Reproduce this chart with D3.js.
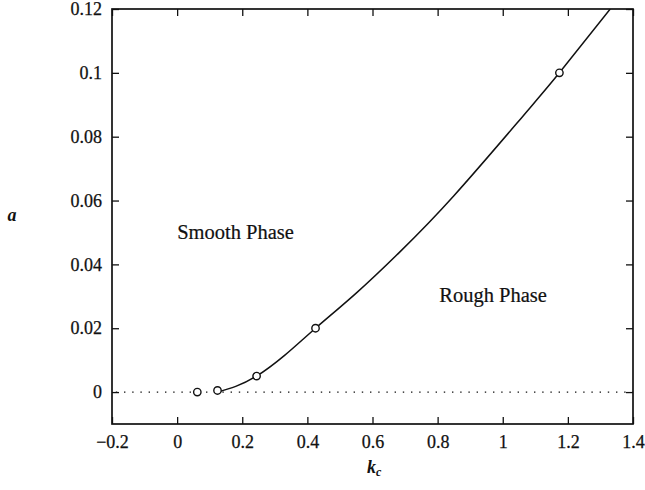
<!DOCTYPE html>
<html>
<head>
<meta charset="utf-8">
<script src="https://cdn.jsdelivr.net/npm/d3@7"></script>
<style>
  html, body { margin: 0; padding: 0; background: #fff; }
  svg { display: block; }
  text { font-family: "Liberation Serif", "Times New Roman", serif; fill: #111; }
</style>
</head>
<body>
<svg id="chart" width="645" height="490"></svg>
<script>
// ---- data ----
const kTicks = [-0.2, 0, 0.2, 0.4, 0.6, 0.8, 1, 1.2, 1.4];
const kTickLabels = ["\u22120.2", "0", "0.2", "0.4", "0.6", "0.8", "1", "1.2", "1.4"];
const aTicks = [0, 0.02, 0.04, 0.06, 0.08, 0.1, 0.12];
const aTickLabels = ["0", "0.02", "0.04", "0.06", "0.08", "0.1", "0.12"];

// simulation points (open circles)
const pointK = [0.062, 0.124, 0.244, 0.425, 1.174];
const pointA = [0, 0.0005, 0.005, 0.02, 0.1];

// fitted phase boundary (solid line)
const curveK = [0.125, 0.18, 0.244, 0.33, 0.425, 0.55, 0.685, 0.85, 1.06, 1.174, 1.33];
const curveA = [0, 0.0018, 0.005, 0.0115, 0.02, 0.031, 0.044, 0.0615, 0.0862, 0.1, 0.12];

// reference line a = 0 (dotted)
const zeroLineK = [-0.2, 1.4];
const zeroLineA = [0, 0];

const regionLabels = ["Smooth Phase", "Rough Phase"];
const regionK = [0.0, 0.805];
const regionA = [0.048, 0.0283];

// ---- layout ----
const W = 645, H = 490;
const margin = { left: 112, right: 12, top: 9, bottom: 66 };
const iw = W - margin.left - margin.right;
const ih = H - margin.top - margin.bottom;

const svg = d3.select("#chart");
const g = svg.append("g").attr("transform", `translate(${margin.left},${margin.top})`);

const x = d3.scaleLinear().domain([-0.2, 1.4]).range([0, iw]);
const y = d3.scaleLinear().domain([-0.01, 0.12]).range([ih, 0]);

svg.append("defs").append("clipPath").attr("id", "clip")
  .append("rect").attr("width", iw).attr("height", ih);

const tickLen = 7;
const fs = 18;

// bottom axis with labels
const xAxis = g.append("g").attr("transform", `translate(0,${ih})`)
  .call(d3.axisBottom(x).tickValues(kTicks)
    .tickFormat((d, i) => kTickLabels[i])
    .tickSizeInner(-tickLen).tickSizeOuter(0).tickPadding(11));
// left axis with labels
const yAxis = g.append("g")
  .call(d3.axisLeft(y).tickValues(aTicks)
    .tickFormat((d, i) => aTickLabels[i])
    .tickSizeInner(-tickLen).tickSizeOuter(0).tickPadding(10));
// top and right: ticks only
const xTop = g.append("g")
  .call(d3.axisTop(x).tickValues(kTicks).tickFormat("")
    .tickSizeInner(-tickLen).tickSizeOuter(0));
const yRight = g.append("g").attr("transform", `translate(${iw},0)`)
  .call(d3.axisRight(y).tickValues(aTicks).tickFormat("")
    .tickSizeInner(-tickLen).tickSizeOuter(0));

[xAxis, yAxis, xTop, yRight].forEach(ax => {
  ax.select(".domain").remove();
  ax.selectAll(".tick line").attr("stroke", "#111").attr("stroke-width", 1.3);
  ax.selectAll(".tick text")
    .attr("font-family", "Liberation Serif, Times New Roman, serif")
    .attr("font-size", fs).attr("fill", "#111")
    .attr("stroke", "#111").attr("stroke-width", 0.25);
});

// frame
g.append("rect").attr("x", 0).attr("y", 0).attr("width", iw).attr("height", ih)
  .attr("fill", "none").attr("stroke", "#111").attr("stroke-width", 1.7);

const plot = g.append("g").attr("clip-path", "url(#clip)");

// dotted zero line
const zeroData = zeroLineK.map((k, i) => [k, zeroLineA[i]]);
plot.append("path")
  .datum(zeroData)
  .attr("d", d3.line().x(d => x(d[0])).y(d => y(d[1])))
  .attr("fill", "none").attr("stroke", "#111").attr("stroke-width", 1.4)
  .attr("stroke-dasharray", "1.4,6.8").attr("stroke-dashoffset", -12);

// boundary curve
const curveData = curveK.map((k, i) => [k, curveA[i]]);
plot.append("path")
  .datum(curveData)
  .attr("d", d3.line().x(d => x(d[0])).y(d => y(d[1])).curve(d3.curveNatural))
  .attr("fill", "none").attr("stroke", "#111").attr("stroke-width", 1.5);

// open circles
const pts = pointK.map((k, i) => [k, pointA[i]]);
plot.selectAll("circle.pt").data(pts).enter().append("circle")
  .attr("class", "pt")
  .attr("cx", d => x(d[0])).attr("cy", d => y(d[1])).attr("r", 3.7)
  .attr("fill", "#fff").attr("stroke", "#111").attr("stroke-width", 1.4);

// region labels
g.selectAll("text.region").data(regionLabels).enter().append("text")
  .attr("class", "region")
  .attr("x", (d, i) => x(regionK[i])).attr("y", (d, i) => y(regionA[i]))
  .attr("font-size", 20.5)
  .attr("stroke", "#111").attr("stroke-width", 0.2)
  .text(d => d);

// axis titles
svg.append("text")
  .attr("x", 12).attr("y", 221)
  .attr("text-anchor", "middle")
  .attr("font-size", 18).attr("font-style", "italic").attr("font-weight", "bold")
  .text("a");

const kt = svg.append("text")
  .attr("x", 367).attr("y", 473)
  .attr("font-size", 18).attr("font-style", "italic").attr("font-weight", "bold");
kt.append("tspan").text("k");
kt.append("tspan").attr("font-size", 12).attr("dy", 3).text("c");
</script>
</body>
</html>
